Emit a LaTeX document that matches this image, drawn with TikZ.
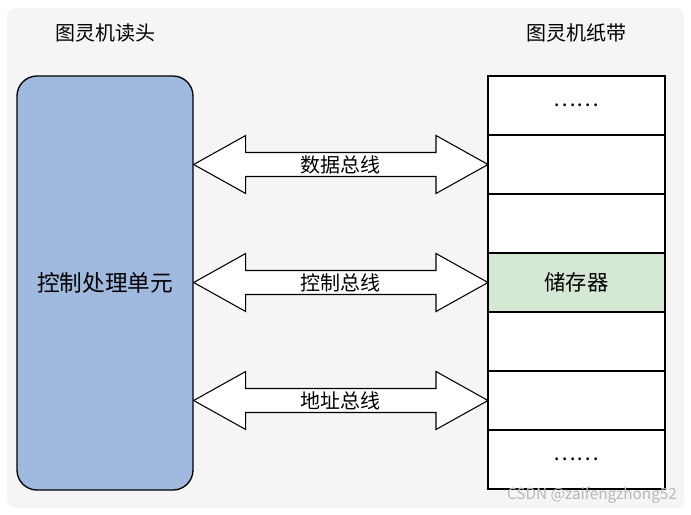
\documentclass[tikz,border=0pt]{standalone}
\usepackage{fontspec}
\setmainfont{Noto Sans CJK SC}
\usepackage{tikz}
\usetikzlibrary{positioning}
\usetikzlibrary{calc}
\definecolor{bggray}{HTML}{F5F5F5}
\definecolor{headblue}{HTML}{A0B9DE}
\definecolor{cellgreen}{HTML}{D5E8D4}
\definecolor{markgray}{HTML}{B8B8B8}

\begin{document}
\begin{tikzpicture}
          [x=0.75pt, y=-0.75pt,
           headbox/.style={draw, line width=1pt, fill=headblue, rounded corners=15pt,
                           minimum width=132pt, minimum height=310.5pt, font=\fontsize{17}{20}\selectfont},
           cellbox/.style={draw, line width=1pt, fill=white, outer sep=0pt,
                           minimum width=132.75pt, minimum height=44.25pt, font=\fontsize{16}{19}\selectfont},
           titletext/.style={font=\fontsize{15}{18}\selectfont},
           buslabel/.style={font=\fontsize{15}{18}\selectfont, inner sep=0pt},
           busarrow/.style={draw, line width=0.8pt, fill=white, line join=miter}]
          \useasboundingbox (0,0) rectangle (691,514);
          \fill[bggray, rounded corners=6pt] (7,8) rectangle (684,508);

          \node (head) [headbox] at (105,283) {控制处理单元};
          \node (headtitle) [titletext] at (105,33) {图灵机读头};

          \node (cell1) [cellbox] at (576.5,105.5) {……};
          \node (cell2) [cellbox, below = 0pt of cell1] {};
          \node (cell3) [cellbox, below = 0pt of cell2] {};
          \node (cell4) [cellbox, below = 0pt of cell3, fill=cellgreen] {储存器};
          \node (cell5) [cellbox, below = 0pt of cell4] {};
          \node (cell6) [cellbox, below = 0pt of cell5] {};
          \node (cell7) [cellbox, below = 0pt of cell6] {……};
          \node (tapetitle) [titletext] at (576,33) {图灵机纸带};

          % buses between head and tape
          \coordinate (databus) at (head.east |- cell2.west);
          \coordinate (ctrlbus) at (head.east |- cell4.west);
          \coordinate (addrbus) at (head.east |- cell6.west);

          \draw[busarrow] (databus) -- ++(52,-29) -- ++(0,17) -- ($(cell2.west)+(-52,-12)$) -- ++(0,-17)
                -- (cell2.west) -- ++(-52,29) -- ++(0,-17) -- ($(databus)+(52,12)$) -- ++(0,17) -- cycle;
          \draw[busarrow] (ctrlbus) -- ++(52,-29) -- ++(0,17) -- ($(cell4.west)+(-52,-12)$) -- ++(0,-17)
                -- (cell4.west) -- ++(-52,29) -- ++(0,-17) -- ($(ctrlbus)+(52,12)$) -- ++(0,17) -- cycle;
          \draw[busarrow] (addrbus) -- ++(52,-29) -- ++(0,17) -- ($(cell6.west)+(-52,-12)$) -- ++(0,-17)
                -- (cell6.west) -- ++(-52,29) -- ++(0,-17) -- ($(addrbus)+(52,12)$) -- ++(0,17) -- cycle;

          \node (datalabel) [buslabel] at ($(databus)!0.5!(cell2.west)$) {数据总线};
          \node (ctrllabel) [buslabel] at ($(ctrlbus)!0.5!(cell4.west)$) {控制总线};
          \node (addrlabel) [buslabel] at ($(addrbus)!0.5!(cell6.west)$) {地址总线};

          \node (mark) [text=markgray, font=\fontsize{11.5}{14}\selectfont] at (592,495) {CSDN @zaifengzhong52};
        \end{tikzpicture}
\end{document}
